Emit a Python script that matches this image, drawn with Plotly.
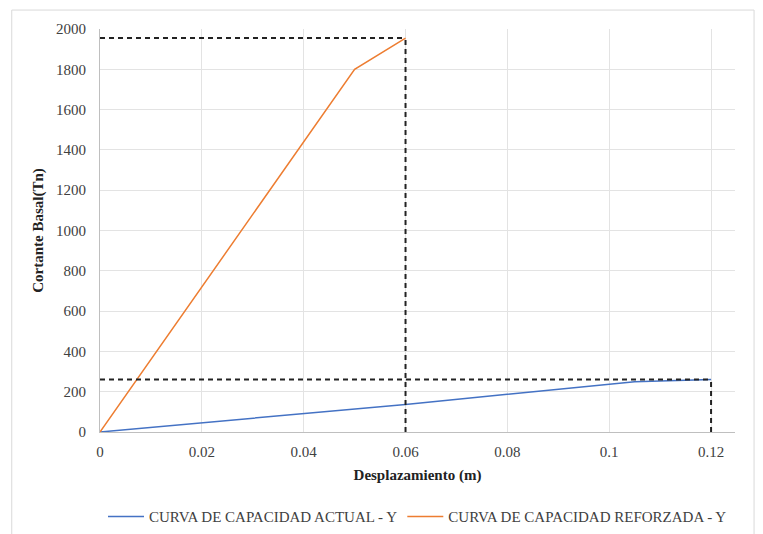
import plotly.graph_objects as go

# Capacity curves (displacement in m, base shear in Tn)
desp_actual = [0.0, 0.04, 0.06, 0.08, 0.095, 0.105, 0.12]
cort_actual = [0.0, 89, 137, 187, 226, 250, 260]

desp_reforzada = [0.0, 0.05, 0.06]
cort_reforzada = [0.0, 1800, 1955]

# Reference limits (dashed guides)
x_lim_reforzada = 0.06
y_lim_reforzada = 1955
x_lim_actual = 0.12
y_lim_actual = 260

x_ticks = [0, 0.02, 0.04, 0.06, 0.08, 0.1, 0.12]
x_tick_text = ["0", "0.02", "0.04", "0.06", "0.08", "0.1", "0.12"]
y_ticks = list(range(0, 2001, 200))

serif = "Liberation Serif, Times New Roman, serif"

fig = go.Figure()

fig.add_trace(go.Scatter(
    x=desp_actual, y=cort_actual, mode="lines",
    name="CURVA DE CAPACIDAD ACTUAL - Y",
    line=dict(color="#4472C4", width=1.5),
))
fig.add_trace(go.Scatter(
    x=desp_reforzada, y=cort_reforzada, mode="lines",
    name="CURVA DE CAPACIDAD REFORZADA - Y",
    line=dict(color="#ED7D31", width=1.5),
))

guide = dict(color="#222222", width=2, dash="5px,4px")
for xs, ys in [
    ([0, x_lim_reforzada], [y_lim_reforzada, y_lim_reforzada]),
    ([x_lim_reforzada, x_lim_reforzada], [0, y_lim_reforzada]),
    ([0, x_lim_actual], [y_lim_actual, y_lim_actual]),
    ([x_lim_actual, x_lim_actual], [0, y_lim_actual]),
]:
    fig.add_trace(go.Scatter(x=xs, y=ys, mode="lines", line=guide,
                             showlegend=False, hoverinfo="skip"))

fig.update_layout(
    width=763, height=534,
    margin=dict(l=100, r=28, t=29, b=102, autoexpand=False),
    paper_bgcolor="white", plot_bgcolor="white",
    font=dict(family=serif, size=15, color="#404040"),
    legend=dict(orientation="h", x=0.5, xanchor="center", y=-0.21, yanchor="middle",
                font=dict(family=serif, size=15, color="#404040"),
                itemwidth=36),
    shapes=[dict(type="rect", xref="paper", yref="paper",
                 x0=-0.139, x1=1.03, y0=-0.26, y1=1.047,
                 line=dict(color="#D9D9D9", width=1))],
)

fig.update_xaxes(
    range=[0, 0.1247], tickvals=x_ticks, ticktext=x_tick_text,
    showgrid=True, gridcolor="#E3E3E3", gridwidth=1,
    showline=True, linecolor="#BFBFBF", zeroline=False,
    ticks="outside", ticklen=6, tickcolor="rgba(0,0,0,0)",
    tickfont=dict(family=serif, size=15, color="#404040"),
    title=dict(text="<b>Desplazamiento (m)</b>", standoff=10,
               font=dict(family=serif, size=15, color="#222222")),
)
fig.update_yaxes(
    range=[0, 2000], tickvals=y_ticks,
    showgrid=True, gridcolor="#E3E3E3", gridwidth=1,
    showline=True, linecolor="#BFBFBF", zeroline=False,
    ticks="outside", ticklen=10, tickcolor="rgba(0,0,0,0)",
    tickfont=dict(family=serif, size=15, color="#404040"),
    title=dict(text="<b>Cortante Basal(Tn)</b>", standoff=8,
               font=dict(family=serif, size=15, color="#222222")),
)

fig.write_html("out.html")
